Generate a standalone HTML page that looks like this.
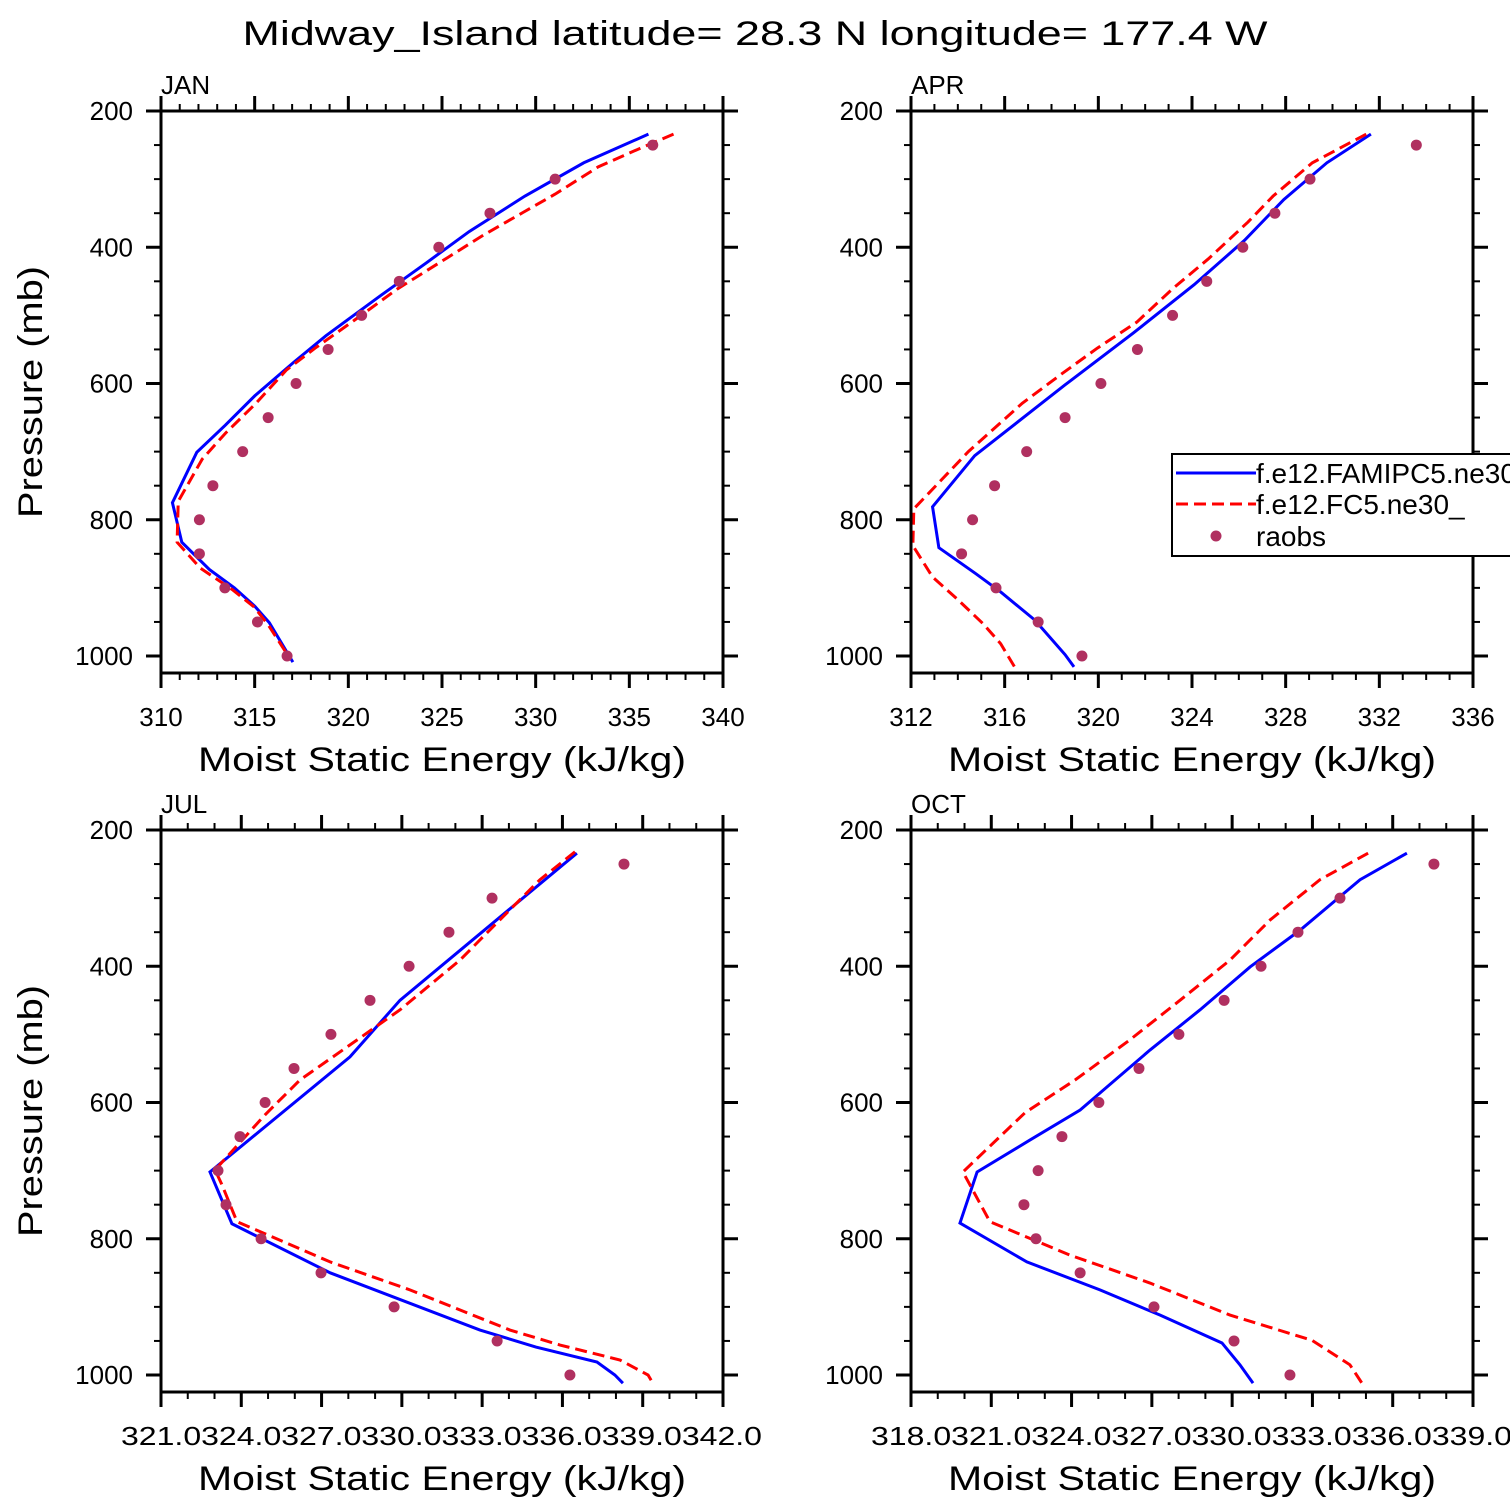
<!DOCTYPE html>
<html><head><meta charset="utf-8"><style>
html,body{margin:0;padding:0;background:#fff;}
svg{display:block;font-family:"Liberation Sans",sans-serif;}
</style></head><body>
<svg id="chart" width="1510" height="1510" viewBox="0 0 1510 1510" xmlns="http://www.w3.org/2000/svg">
<text x="755" y="45" font-size="34" text-anchor="middle" textLength="1025" lengthAdjust="spacingAndGlyphs">Midway_Island  latitude= 28.3 N longitude= 177.4 W</text>
</svg>
<script>
const levels = [250,300,350,400,450,500,550,600,650,700,750,800,850,900,950,1000];
// JAN
const janBlueX = [336.02,332.57,329.42,326.45,324.16,321.57,318.80,317.08,315.01,313.44,311.91,310.61,311.11,312.58,313.92,315.01,315.78,317.04];
const janBlueP = [234,276,325,377,423,474,530,569,618,661,701,775,833,873,900,927,951,1009];
const janRedX = [337.36,335.64,333.34,331.04,329.32,327.22,325.31,322.63,320.33,318.23,316.70,315.07,313.44,312.20,310.92,310.86,312.10,313.83,314.97,315.74,316.89];
const janRedP = [234,254,282,322,349,382,415,461,507,548,580,629,673,711,773,833,871,903,928,955,1004];
const janObs = [336.25,331.04,327.56,324.83,322.72,320.71,318.92,317.21,315.72,314.36,312.77,312.05,312.05,313.41,315.15,316.73];
// APR
const aprBlueX = [331.64,329.76,327.92,326.24,324.09,321.49,318.58,314.72,312.92,313.19,314.76,315.83,317.28,318.58,318.96];
const aprBlueP = [234,276,330,390,455,526,602,706,781,841,879,906,947,998,1016];
const aprRedX = [331.44,329.14,327.46,326.39,324.70,323.17,321.64,319.96,318.43,316.75,314.45,312.12,312.08,312.92,313.99,315.06,315.83,316.44];
const aprRedP = [234,276,325,363,417,461,510,548,586,629,700,784,838,884,917,952,982,1017];
const aprObs = [333.58,329.04,327.54,326.17,324.63,323.17,321.67,320.11,318.58,316.94,315.57,314.63,314.16,315.63,317.43,319.30];
// JUL
const julBlueX = [336.57,329.96,328.09,322.86,323.68,327.35,332.95,335.04,337.32,337.99,338.29];
const julBlueP = [234,450,533,702,778,850,934,959,981,1000,1012];
const julRedX = [336.50,335.19,334.07,332.20,329.96,326.22,324.92,323.05,323.31,323.87,327.35,330.33,334.07,335.94,338.18,339.23,339.41];
const julRedP = [232,273,317,391,464,567,618,699,721,775,834,875,934,956,978,1000,1012];
const julObs = [338.33,333.40,331.79,330.30,328.84,327.38,326.00,324.92,323.98,323.16,323.46,324.77,327.01,329.74,333.59,336.31];
// OCT
const octBlueX = [336.56,334.81,332.57,330.70,328.83,326.96,324.35,322.48,320.50,319.86,322.36,325.09,327.33,329.65,330.32,330.81];
const octBlueP = [234,273,347,401,464,523,611,655,702,777,834,875,912,953,985,1012];
const octRedX = [335.11,333.31,331.45,329.95,328.08,326.21,324.16,322.29,319.97,320.98,323.97,326.96,329.95,333.01,334.43,334.88];
const octRedP = [234,273,332,391,450,508,567,615,702,775,824,865,912,949,985,1012];
const octObs = [337.57,334.06,332.49,331.11,329.73,328.04,326.55,325.05,323.67,322.78,322.25,322.70,324.35,327.11,330.10,332.19];
const pTicks = [200,400,600,800,1000];

const NS='http://www.w3.org/2000/svg';
const svg=document.getElementById('chart');
function mk(tag,attrs,parent){const e=document.createElementNS(NS,tag);for(const k in attrs)e.setAttribute(k,attrs[k]);(parent||svg).appendChild(e);return e;}

const panels=[
 {name:'jan',label:'JAN',x0:161,y0:111,xmin:310,xmax:340,maj:5,min:1,labels:['310','315','320','325','330','335','340'],joined:false,bx:janBlueX,bp:janBlueP,rx:janRedX,rp:janRedP,ob:janObs},
 {name:'apr',label:'APR',x0:911,y0:111,xmin:312,xmax:336,maj:4,min:1,labels:['312','316','320','324','328','332','336'],joined:false,bx:aprBlueX,bp:aprBlueP,rx:aprRedX,rp:aprRedP,ob:aprObs},
 {name:'jul',label:'JUL',x0:161,y0:830,xmin:321.03,xmax:342.03,maj:3,min:1,labels:['321.0324.0327.0330.0333.0336.0339.0342.0'],joined:true,jx0:121,jw:641,bx:julBlueX,bp:julBlueP,rx:julRedX,rp:julRedP,ob:julObs},
 {name:'oct',label:'OCT',x0:911,y0:830,xmin:318.03,xmax:339.03,maj:3,min:1,labels:['318.0321.0324.0327.0330.0333.0336.0339.0'],joined:true,jx0:871,jw:641,bx:octBlueX,bp:octBlueP,rx:octRedX,rp:octRedP,ob:octObs}
];
const W=562,H=562,PPM=0.68125;
panels.forEach(P=>{
 const g=mk('g',{});
 
 
 const X=v=>P.x0+(v-P.xmin)/(P.xmax-P.xmin)*W;
 const Y=p=>P.y0+(p-200)*PPM;
 const cp=mk('clipPath',{id:'clip-'+P.name},g);
 mk('rect',{x:P.x0,y:P.y0,width:W,height:H},cp);
 const nMin=Math.round((P.xmax-P.xmin)/P.min);
 for(let i=0;i<=nMin;i++){
  const x=P.x0+i*W/nMin;const major=(i%Math.round(P.maj/P.min))===0;const L=major?15:7;
  mk('line',{x1:x,y1:P.y0+H,x2:x,y2:P.y0+H+L,stroke:'#000','stroke-width':major?3:2},g);
  mk('line',{x1:x,y1:P.y0,x2:x,y2:P.y0-L,stroke:'#000','stroke-width':major?3:2},g);
 }
 for(let p=200;p<=1000;p+=50){
  const y=Y(p);const major=p%200===0;const L=major?15:7;
  mk('line',{x1:P.x0,y1:y,x2:P.x0-L,y2:y,stroke:'#000','stroke-width':major?3:2},g);
  mk('line',{x1:P.x0+W,y1:y,x2:P.x0+W+L,y2:y,stroke:'#000','stroke-width':major?3:2},g);
 }
 pTicks.forEach(p=>{
  const t=mk('text',{x:P.x0-28,y:Y(p)+9,'font-size':26,'text-anchor':'end'},g);
  
  
  t.textContent=p;
 });
 if(P.joined){
  const t=mk('text',{x:P.jx0,y:P.y0+H+53,'font-size':26,textLength:P.jw,lengthAdjust:'spacingAndGlyphs'},g);
  
  
  t.textContent=P.labels[0];
 } else {
  P.labels.forEach((s,i)=>{
   const t=mk('text',{x:P.x0+i*W/(P.labels.length-1),y:P.y0+H+53,'font-size':26,'text-anchor':'middle'},g);
   
   
   t.textContent=s;
  });
 }
 const xt=mk('text',{x:P.x0+W/2,y:P.y0+H+98,'font-size':34,'text-anchor':'middle',textLength:488,lengthAdjust:'spacingAndGlyphs'},g);
 
 
 xt.textContent='Moist Static Energy (kJ/kg)';
 if(P.x0<500){
  const cy=P.y0+281;
  const yt=mk('text',{x:42,y:cy,'font-size':34,'text-anchor':'middle',transform:'rotate(-90 42 '+cy+')',textLength:252,lengthAdjust:'spacingAndGlyphs'},g);
  
  
  yt.textContent='Pressure (mb)';
 }
 const pl=mk('text',{x:P.x0,y:P.y0-17,'font-size':26},g);
 
 
 pl.textContent=P.label;
 const cg=mk('g',{'clip-path':'url(#clip-'+P.name+')'},g);
 const bl=mk('polyline',{points:P.bx.map((v,i)=>X(v)+','+Y(P.bp[i])).join(' '),fill:'none',stroke:'#0000ff','stroke-width':3},cg);
 
 
 const rl=mk('polyline',{points:P.rx.map((v,i)=>X(v)+','+Y(P.rp[i])).join(' '),fill:'none',stroke:'#ff0000','stroke-width':3,'stroke-dasharray':'12 6'},cg);
 
 
 P.ob.forEach((v,i)=>{
  const c=mk('circle',{cx:X(v),cy:Y(levels[i]),r:5.5,fill:'#b03060'},g);
  
  
 });
 mk('rect',{x:P.x0,y:P.y0,width:W,height:H,fill:'none',stroke:'#000','stroke-width':3},g);
});
const lg=mk('g',{});


mk('rect',{x:1172,y:454,width:360,height:102,fill:'#fff',stroke:'#000','stroke-width':2},lg);
mk('line',{x1:1176,y1:473,x2:1256,y2:473,stroke:'#0000ff','stroke-width':3},lg);
mk('line',{x1:1176,y1:504,x2:1256,y2:504,stroke:'#ff0000','stroke-width':3,'stroke-dasharray':'12 6'},lg);
mk('circle',{cx:1216,cy:536,r:5.5,fill:'#b03060'},lg);
[['f.e12.FAMIPC5.ne30_',483],['f.e12.FC5.ne30_',514],['raobs',546]].forEach(([s,y])=>{
 const t=mk('text',{x:1256,y:y,'font-size':28},lg);
 
 
 t.textContent=s;
});
</script>
</body></html>
